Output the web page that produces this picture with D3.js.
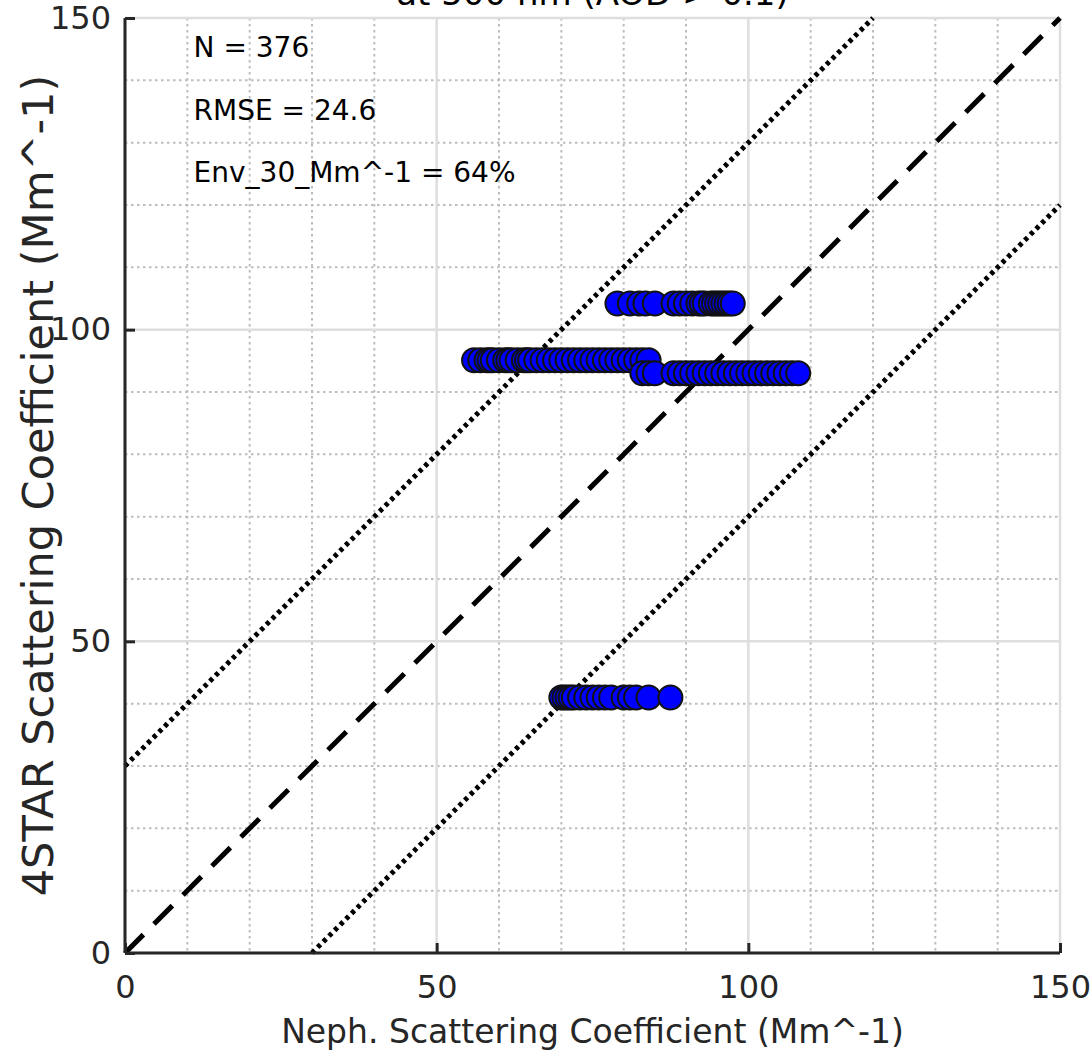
<!DOCTYPE html>
<html>
<head>
    <title>Neph vs 4STAR</title>
    <script src="https://d3js.org/d3.v7.min.js"></script>
    <style>
        body { margin: 0; background: #fff; }
        text { font-family: "DejaVu Sans", Verdana, sans-serif; fill: #262626; }
    </style>
</head>
<body>
    <svg width="1091" height="1054" id="mainSvg"></svg>
    <script>
        // cluster values (x = Neph, y = 4STAR)
        const clusterA_x = [79, 81, 82.5, 83.5, 85, 88, 89, 90, 91, 92, 92.5, 93, 94, 94.5, 95, 95.5, 96, 96.5, 97, 97.5];
        const clusterA_y = 104.2;
        const clusterB_x = [56, 57, 58, 58.5, 59, 60, 61, 61.5, 62, 63, 64, 64.5, 65, 66, 67, 68, 69, 70, 71, 72, 73, 74, 75, 76, 77, 78, 79, 80, 81, 82, 83, 84];
        const clusterB_y = 95.1;
        const clusterC_x = [83, 84, 85, 88, 89, 90, 91, 92, 93, 94, 95, 96, 97, 98, 99, 100, 101, 102, 103, 104, 105, 106, 107, 108];
        const clusterC_y = 93;
        const clusterD_x = [70, 70.5, 71, 71.5, 72, 73, 74, 75, 76, 77, 78, 80, 81, 82, 84, 87.5];
        const clusterD_y = 41;

        const majorTicks = [0, 50, 100, 150];
        const minorTicks = [10, 20, 30, 40, 60, 70, 80, 90, 110, 120, 130, 140];
        const statLines = ["N = 376", "RMSE = 24.6", "Env_30_Mm^-1 = 64%"];
        const statY = [145, 135, 125];
        const envelope = 30;

        const svg = d3.select("#mainSvg");
        const margin = { top: 18, left: 125, right: 31, bottom: 101 };
        const width = 1091 - margin.left - margin.right;
        const height = 1054 - margin.top - margin.bottom;

        const x = d3.scaleLinear().domain([0, 150]).range([0, width]);
        const y = d3.scaleLinear().domain([0, 150]).range([height, 0]);

        const g = svg.append("g").attr("transform", `translate(${margin.left},${margin.top})`);

        // title (mostly cut off at the top of the picture)
        svg.append("text")
            .attr("x", margin.left + width / 2).attr("y", 5)
            .attr("text-anchor", "middle").attr("font-size", 34)
            .style("fill", "#000")
            .text("at 500 nm (AOD > 0.1)");

        // minor grid
        g.selectAll(".minx").data(minorTicks).join("line")
            .attr("x1", d => x(d)).attr("x2", d => x(d)).attr("y1", 0).attr("y2", height)
            .attr("stroke", "#bdbdbd").attr("stroke-width", 2).attr("stroke-dasharray", "2.5,3.5");
        g.selectAll(".miny").data(minorTicks).join("line")
            .attr("y1", d => y(d)).attr("y2", d => y(d)).attr("x1", 0).attr("x2", width)
            .attr("stroke", "#bdbdbd").attr("stroke-width", 2).attr("stroke-dasharray", "2.5,3.5");

        // major grid
        g.selectAll(".majx").data(majorTicks).join("line")
            .attr("x1", d => x(d)).attr("x2", d => x(d)).attr("y1", 0).attr("y2", height)
            .attr("stroke", "#dedede").attr("stroke-width", 2.5);
        g.selectAll(".majy").data(majorTicks).join("line")
            .attr("y1", d => y(d)).attr("y2", d => y(d)).attr("x1", 0).attr("x2", width)
            .attr("stroke", "#dedede").attr("stroke-width", 2.5);

        // reference lines
        const refLine = (off) => [[Math.max(0, -off), Math.max(0, -off) + off], [Math.min(150, 150 - off), Math.min(150, 150 - off) + off]];
        const line = d3.line().x(d => x(d[0])).y(d => y(d[1]));
        g.append("path").attr("d", line(refLine(0)))
            .attr("stroke", "#000").attr("stroke-width", 5).attr("stroke-dasharray", "26,15").attr("fill", "none");
        g.append("path").attr("d", line(refLine(envelope)))
            .attr("stroke", "#000").attr("stroke-width", 5).attr("stroke-dasharray", "4,4").attr("fill", "none");
        g.append("path").attr("d", line(refLine(-envelope)))
            .attr("stroke", "#000").attr("stroke-width", 5).attr("stroke-dasharray", "4,4").attr("fill", "none");

        // points
        const points = [].concat(
            clusterA_x.map(v => [v, clusterA_y]),
            clusterB_x.map(v => [v, clusterB_y]),
            clusterC_x.map(v => [v, clusterC_y]),
            clusterD_x.map(v => [v, clusterD_y])
        );
        g.selectAll("circle").data(points).join("circle")
            .attr("cx", d => x(d[0])).attr("cy", d => y(d[1])).attr("r", 12)
            .attr("fill", "#0000ff").attr("stroke", "#111").attr("stroke-width", 2);

        // axes
        const xAxis = d3.axisBottom(x).tickValues(majorTicks).tickSize(-10).tickPadding(22).tickFormat(d3.format("d"));
        const yAxis = d3.axisLeft(y).tickValues(majorTicks).tickSize(-10).tickPadding(14).tickFormat(d3.format("d"));
        const gx = g.append("g").attr("transform", `translate(0,${height})`).call(xAxis);
        const gy = g.append("g").call(yAxis);
        [gx, gy].forEach(ax => {
            ax.select(".domain").attr("stroke", "#262626").attr("stroke-width", 3);
            ax.selectAll(".tick line").attr("stroke", "#262626").attr("stroke-width", 3);
            ax.selectAll(".tick text").attr("font-size", 32).attr("font-family", "DejaVu Sans").style("fill", "#262626");
        });
        gx.select(".domain").attr("d", `M0,0H${width}`);
        gy.select(".domain").attr("d", `M0,${height}V0`);

        // stats text
        g.selectAll(".stat").data(statLines).join("text")
            .attr("x", x(11)).attr("y", (d, i) => y(statY[i]))
            .attr("dominant-baseline", "middle").attr("font-size", 28)
            .style("fill", "#000")
            .text(d => d);

        // axis labels
        svg.append("text")
            .attr("x", margin.left + width / 2).attr("y", 1043)
            .attr("text-anchor", "middle").attr("font-size", 33)
            .text("Neph. Scattering Coefficient (Mm^-1)");
        svg.append("text")
            .attr("transform", `translate(53,${margin.top + height / 2}) rotate(-90)`)
            .attr("text-anchor", "middle").attr("font-size", 43)
            .text("4STAR Scattering Coefficient (Mm^-1)");
    </script>
</body>
</html>
